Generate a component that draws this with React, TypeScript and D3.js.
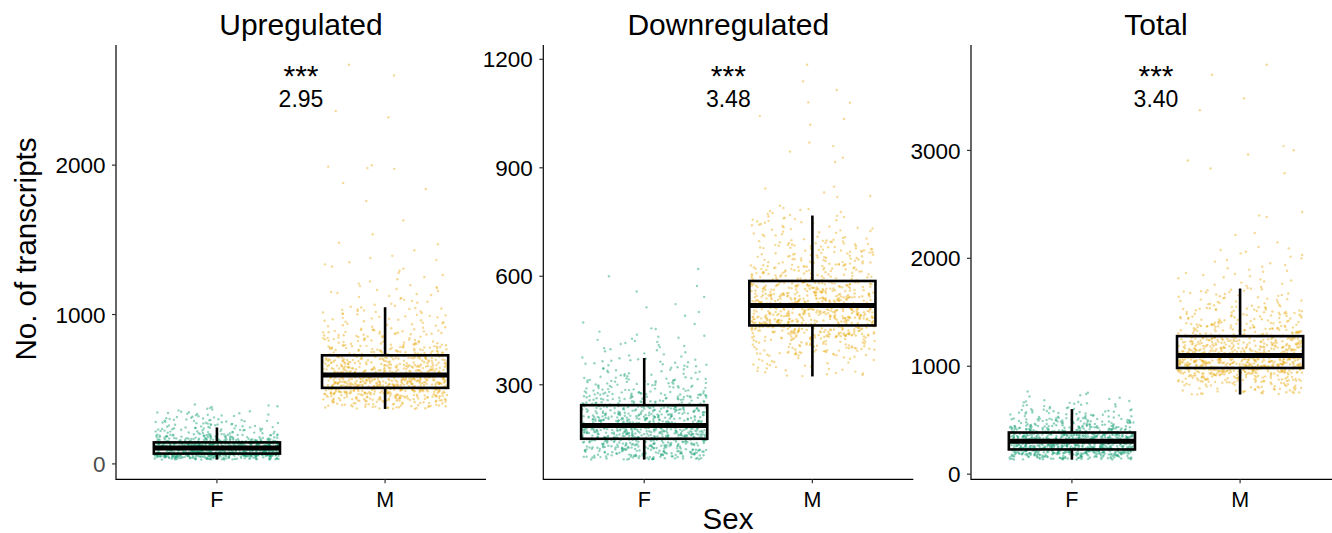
import React from 'react';
import * as d3 from 'd3';

// ---------- data ----------
const panelTitles = ['Upregulated', 'Downregulated', 'Total'];
const sexes = ['F', 'M'];
const sigLabels = ['***', '***', '***'];
const ratioLabels = ['2.95', '3.48', '3.40'];
const yTickValues = [
  [0, 1000, 2000],
  [300, 600, 900, 1200],
  [0, 1000, 2000, 3000],
];

// box stats: [lower whisker, Q1, median, Q3, upper whisker]
const upF_box = [29, 69, 107, 144, 244];
const upM_box = [368, 509, 595, 727, 1049];
const downF_box = [93, 150.6, 187, 243.5, 374];
const downM_box = [323, 464, 519, 587, 768];
const totF_box = [135, 229, 305, 386, 603];
const totM_box = [738, 984, 1100, 1279, 1720];

// point clouds: estimated histogram (bin edges + counts) plus individually read sparse points
const upF_edges = [29, 50, 69, 88, 107, 125, 144, 170, 200, 244, 300, 350, 400];
const upF_counts = [78, 150, 114, 113, 114, 113, 72, 52, 39, 36, 20, 9];
const upF_sparse: number[] = [];

const upM_edges = [368, 420, 470, 509, 550, 595, 660, 727, 800, 900, 1049, 1200, 1400];
const upM_counts = [52, 85, 91, 117, 110, 124, 104, 72, 58, 45, 23, 14];
const upM_sparse = [1430, 1470, 1480, 1537, 1630, 1760, 1840, 1880, 1975, 1980, 1990, 2000, 2320, 2362, 2600, 2672];

const downF_edges = [93, 120, 150, 168, 187, 215, 243, 280, 320, 374, 440];
const downF_counts = [104, 124, 110, 117, 124, 104, 91, 58, 39, 23];
const downF_sparse = [447, 454, 456, 468, 472, 491, 501, 514, 523, 543, 558, 573, 600, 620];

const downM_edges = [323, 380, 430, 464, 490, 519, 550, 587, 640, 700, 768, 790];
const downM_counts = [32, 78, 117, 110, 117, 117, 110, 91, 72, 39, 8];
const downM_sparse = [795, 819, 822, 832, 843, 848, 916, 928, 945, 960, 970, 1019, 1035, 1043, 1080, 1081, 1115, 1139, 1185];

const totF_edges = [135, 180, 229, 265, 305, 345, 386, 450, 520, 603, 680, 772];
const totF_counts = [78, 150, 117, 110, 117, 110, 98, 65, 39, 18, 8];
const totF_sparse: number[] = [];

const totM_edges = [738, 850, 930, 984, 1040, 1100, 1190, 1279, 1400, 1550, 1720, 1900, 2100];
const totM_counts = [52, 78, 98, 117, 110, 124, 104, 78, 65, 39, 18, 13];
const totM_sparse = [2106, 2148, 2216, 2235, 2383, 2398, 2430, 2788, 2833, 2907, 2962, 3002, 3040, 3373, 3483, 3701, 3794];

// ---------- assembly ----------
type Group = { box: number[]; edges: number[]; counts: number[]; sparse: number[] };
const panelsData: Group[][] = [
  [
    { box: upF_box, edges: upF_edges, counts: upF_counts, sparse: upF_sparse },
    { box: upM_box, edges: upM_edges, counts: upM_counts, sparse: upM_sparse },
  ],
  [
    { box: downF_box, edges: downF_edges, counts: downF_counts, sparse: downF_sparse },
    { box: downM_box, edges: downM_edges, counts: downM_counts, sparse: downM_sparse },
  ],
  [
    { box: totF_box, edges: totF_edges, counts: totF_counts, sparse: totF_sparse },
    { box: totM_box, edges: totM_edges, counts: totM_counts, sparse: totM_sparse },
  ],
];

function groupValues(g: Group): number[] {
  const vals: number[] = [];
  g.counts.forEach((c, k) => {
    const a = g.edges[k];
    const b = g.edges[k + 1];
    for (let j = 0; j < c; j++) vals.push(a + ((j + 0.5) * (b - a)) / c);
  });
  return vals.concat(g.sparse);
}

// deterministic jitter offsets (position only)
function jitter(i: number, seed: number) {
  const s = Math.sin((i + 1) * 12.9898 + seed * 78.233) * 43758.5453;
  return s - Math.floor(s);
}

const W = 1332;
const H = 533;
const plotTop = 45;
const plotBottom = 479.3;
const panelWidth = 370;
const panelLefts = [116, 543.3, 971];
const colors = ['#1FA37C', '#EAB020'];
const FONT = '"Liberation Sans", Arial, Helvetica, sans-serif';

export default function App() {
  return (
    <svg
      width={W}
      height={H}
      style={{ position: 'absolute', left: 0, top: 0, background: '#fff' }}
      fontFamily={FONT}
    >
      <rect x={0} y={0} width={W} height={H} fill="#fff" />
      {panelsData.map((groups, p) => {
        const left = panelLefts[p];
        const x = d3.scaleLinear().domain([0.4, 2.6]).range([left, left + panelWidth]);
        const allVals = groups.flatMap((g) => groupValues(g));
        const [mn, mx] = d3.extent(allVals) as [number, number];
        const pad = (mx - mn) * 0.05;
        const y = d3.scaleLinear().domain([mn - pad, mx + pad]).range([plotBottom, plotTop]);
        const cx = (left + left + panelWidth) / 2;
        return (
          <g key={p}>
            <text x={cx} y={35} textAnchor="middle" fontSize={30} fill="#000">
              {panelTitles[p]}
            </text>
            {/* points */}
            {groups.map((g, gi) => {
              const vals = groupValues(g);
              return (
                <g key={'pts' + gi}>
                  {vals.map((v, i) => (
                    <circle
                      key={i}
                      cx={x(gi + 1 + (jitter(i, p * 2 + gi) - 0.5) * 0.74)}
                      cy={y(v)}
                      r={1.2}
                      fill={colors[gi]}
                      fillOpacity={0.48}
                    />
                  ))}
                </g>
              );
            })}
            {/* boxes */}
            {groups.map((g, gi) => {
              const [lw, q1, med, q3, uw] = g.box;
              const xc = x(gi + 1);
              const x0 = x(gi + 1 - 0.375);
              const x1 = x(gi + 1 + 0.375);
              return (
                <g key={'box' + gi} stroke="#000" fill="none">
                  <line x1={xc} x2={xc} y1={y(q3)} y2={y(uw)} strokeWidth={2.6} />
                  <line x1={xc} x2={xc} y1={y(q1)} y2={y(lw)} strokeWidth={2.6} />
                  <rect x={x0} y={y(q3)} width={x1 - x0} height={y(q1) - y(q3)} strokeWidth={2.6} />
                  <line x1={x0} x2={x1} y1={y(med)} y2={y(med)} strokeWidth={5} />
                </g>
              );
            })}
            {/* axes */}
            <line x1={left} x2={left} y1={plotTop} y2={plotBottom + 0.6} stroke="#000" strokeWidth={1.2} />
            <line x1={left} x2={left + panelWidth} y1={plotBottom} y2={plotBottom} stroke="#000" strokeWidth={1.2} />
            {yTickValues[p].map((t) => (
              <g key={'yt' + t}>
                <line x1={left - 4} x2={left} y1={y(t)} y2={y(t)} stroke="#333" strokeWidth={1.2} />
                <text
                  x={left - 10.5}
                  y={y(t)}
                  dy="0.36em"
                  textAnchor="end"
                  fontSize={22.5}
                  fill={p === 0 && t === 0 ? '#4d4d4d' : '#000'}
                >
                  {t}
                </text>
              </g>
            ))}
            {sexes.map((s, si) => (
              <g key={'xt' + s}>
                <line x1={x(si + 1)} x2={x(si + 1)} y1={plotBottom} y2={plotBottom + 4} stroke="#333" strokeWidth={1.2} />
                <text x={x(si + 1)} y={507} textAnchor="middle" fontSize={21.5} fill="#000">
                  {s}
                </text>
              </g>
            ))}
            {/* annotation */}
            <text x={x(1.5)} y={86} textAnchor="middle" fontSize={30} fill="#000">
              {sigLabels[p]}
            </text>
            <text x={x(1.5)} y={106.5} textAnchor="middle" fontSize={23} fill="#000">
              {ratioLabels[p]}
            </text>
          </g>
        );
      })}
      <text x={728} y={529} textAnchor="middle" fontSize={29.5} fill="#000">
        Sex
      </text>
      <text
        transform={`translate(36,249) rotate(-90)`}
        textAnchor="middle"
        fontSize={29.5}
        fill="#000"
      >
        No. of transcripts
      </text>
    </svg>
  );
}
